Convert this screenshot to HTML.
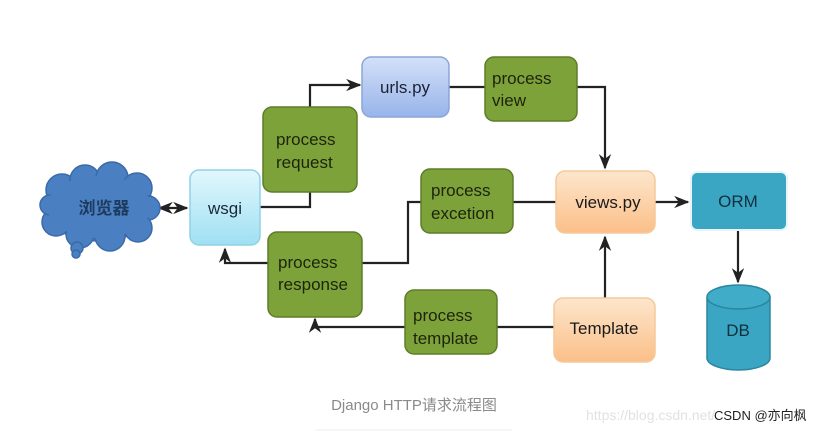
<!DOCTYPE html>
<html><head><meta charset="utf-8"><style>
html,body{margin:0;padding:0;background:#fff;width:831px;height:433px;overflow:hidden}
svg text{font-family:"Liberation Sans","Noto Sans CJK SC",sans-serif}
</style></head><body>
<svg width="831" height="433" viewBox="0 0 831 433" xmlns="http://www.w3.org/2000/svg">
<defs>
<linearGradient id="gb" x1="0" y1="0" x2="0" y2="1"><stop offset="0" stop-color="#d3e0f8"/><stop offset="1" stop-color="#98b4ea"/></linearGradient>
<linearGradient id="gc" x1="0" y1="0" x2="0" y2="1"><stop offset="0" stop-color="#e2f7fd"/><stop offset="1" stop-color="#9fe0f3"/></linearGradient>
<linearGradient id="gp" x1="0" y1="0" x2="0" y2="1"><stop offset="0" stop-color="#fde6cc"/><stop offset="1" stop-color="#fbbf88"/></linearGradient>
<marker id="ar" viewBox="0 0 10 10" refX="9" refY="5" markerWidth="7" markerHeight="7" orient="auto-start-reverse"><path d="M0,1 L10,5 L0,9 L3,5 z" fill="#222"/></marker>
</defs>
<g fill="none" stroke="#222" stroke-width="2.2">
<path d="M159,208 L187,208" marker-start="url(#ar)" marker-end="url(#ar)"/>
<path d="M260,207 L310,207 L310,192"/>
<path d="M310,107 L310,85 L360,85" marker-end="url(#ar)"/>
<path d="M449,87 L485,87"/>
<path d="M577,87 L605,87 L605,168" marker-end="url(#ar)"/>
<path d="M513,202 L556,202"/>
<path d="M655,202 L688,202" marker-end="url(#ar)"/>
<path d="M738,230 L738,282" marker-end="url(#ar)"/>
<path d="M605,298 L605,237" marker-end="url(#ar)"/>
<path d="M497,327 L554,327"/>
<path d="M405,327 L315,327 L315,319" marker-end="url(#ar)"/>
<path d="M362,263 L408,263 L408,202 L421,202"/>
<path d="M268,263 L225,263 L225,249" marker-end="url(#ar)"/>
</g>
<!-- cloud -->
<g fill="#4a80c2" stroke="#3a6aa8" stroke-width="1.5">
<ellipse cx="99" cy="207" rx="55" ry="34"/>
<circle cx="62" cy="190" r="16"/><circle cx="85" cy="180" r="15"/><circle cx="112" cy="178" r="16"/><circle cx="137" cy="188" r="15"/>
<circle cx="148" cy="208" r="12"/><circle cx="138" cy="228" r="14"/><circle cx="110" cy="236" r="15"/><circle cx="80" cy="234" r="14"/>
<circle cx="56" cy="222" r="14"/><circle cx="50" cy="205" r="10"/>
<circle cx="77" cy="248" r="6"/><circle cx="76" cy="254" r="4"/>
</g>
<g fill="#4a80c2"><ellipse cx="99" cy="207" rx="52" ry="31"/></g>
<text x="104" y="214" font-size="17" font-weight="bold" fill="#1e3a5e" text-anchor="middle" font-family="Noto Serif CJK SC,serif">浏览器</text>
<!-- boxes -->
<rect x="190" y="170" width="70" height="75" rx="9" fill="url(#gc)" stroke="#8fd2e6" stroke-width="1.5"/>
<text x="225" y="214" font-size="17" fill="#1a2a3a" text-anchor="middle">wsgi</text>
<rect x="362" y="57" width="87" height="60" rx="9" fill="url(#gb)" stroke="#8aa5d6" stroke-width="1.5"/>
<text x="405" y="93" font-size="17" fill="#1a2233" text-anchor="middle">urls.py</text>
<g fill="#7ea23a" stroke="#5d7d28" stroke-width="1.5">
<rect x="263" y="107" width="94" height="85" rx="9"/>
<rect x="268" y="232" width="94" height="85" rx="9"/>
<rect x="485" y="57" width="92" height="64" rx="9"/>
<rect x="421" y="169" width="92" height="64" rx="9"/>
<rect x="405" y="290" width="92" height="64" rx="9"/>
</g>
<g font-size="17" fill="#1c240c">
<text x="276" y="145">process</text><text x="276" y="168">request</text>
<text x="278" y="268">process</text><text x="278" y="290">response</text>
<text x="492" y="84">process</text><text x="492" y="106">view</text>
<text x="431" y="196">process</text><text x="431" y="219">excetion</text>
<text x="413" y="321">process</text><text x="413" y="344">template</text>
</g>
<rect x="556" y="171" width="99" height="62" rx="9" fill="url(#gp)" stroke="#f3c99a" stroke-width="1.5"/>
<text x="608" y="208" font-size="17" fill="#1a1a1a" text-anchor="middle">views.py</text>
<rect x="554" y="298" width="101" height="64" rx="9" fill="url(#gp)" stroke="#f3c99a" stroke-width="1.5"/>
<text x="604" y="334" font-size="17" fill="#1a1a1a" text-anchor="middle">Template</text>
<rect x="691" y="172" width="96" height="58" rx="6" fill="#3aa6c4" stroke="#e8f4f8" stroke-width="2"/>
<text x="738" y="207" font-size="17" fill="#10303d" text-anchor="middle">ORM</text>
<path d="M707,297 L707,358 A31.5,12 0 0 0 770,358 L770,297" fill="#3aa6c4" stroke="#2a86a0" stroke-width="1.5"/>
<ellipse cx="738.5" cy="297" rx="31.5" ry="12" fill="#40acc8" stroke="#2a86a0" stroke-width="1.5"/>
<text x="738" y="336" font-size="17" fill="#10303d" text-anchor="middle">DB</text>
<text x="414" y="410" font-size="15" fill="#8a8a8a" text-anchor="middle">Django HTTP请求流程图</text>
<line x1="316" y1="430" x2="512" y2="430" stroke="#eee" stroke-width="1"/>
<text x="586" y="420" font-size="14" fill="#e2e2e2">https://blog.csdn.net/</text>
<text x="714" y="420" font-size="13" fill="#222">CSDN @亦向枫</text>
</svg>
</body></html>
